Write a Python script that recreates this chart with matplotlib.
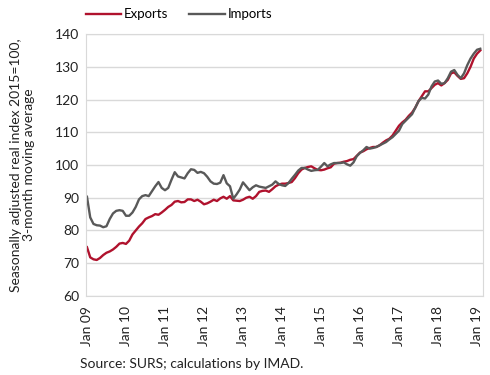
import numpy as np
import matplotlib.pyplot as plt

plt.rcParams['font.family'] = ['Lato', 'DejaVu Sans']

# monthly values, Jan 2009 - Feb 2019
exports = [74.9, 71.8, 71.2, 71.0, 71.6, 72.5, 73.2, 73.6, 74.2, 75.0, 76.0, 76.2,
           75.9, 76.9, 78.8, 80.0, 81.2, 82.2, 83.5, 84.0, 84.4, 85.0, 84.8, 85.5,
           86.3, 87.2, 87.8, 88.8, 89.0, 88.6, 88.7, 89.5, 89.5, 89.0, 89.4, 88.8,
           88.0, 88.3, 88.8, 89.4, 89.0, 89.8, 90.3, 89.7, 90.5, 89.2, 89.1, 89.0,
           89.4, 90.0, 90.3, 89.7, 90.5, 91.8, 92.1, 92.2, 91.8, 92.6, 93.5, 94.0,
           94.3, 94.3, 94.5, 94.8, 96.0, 97.5, 98.6, 99.1, 99.4, 99.6, 99.0, 98.5,
           98.4, 98.6, 99.0, 99.3, 100.4, 100.6, 100.7, 101.0, 101.2, 101.6, 101.8, 102.8,
           103.8, 104.2, 104.8, 105.2, 105.5, 105.5, 106.0, 106.8, 107.5, 108.0, 109.0, 110.5,
           112.0, 113.0, 113.8, 115.0, 116.0, 117.5, 119.5, 121.0, 122.5, 122.5, 123.5, 124.5,
           125.0, 124.3, 125.0, 126.0, 128.0, 128.3, 127.2, 126.3, 126.5, 128.0, 130.0, 132.5,
           134.0, 135.0]
imports = [90.3, 84.0, 82.0, 81.6, 81.5, 81.0, 81.3, 83.5, 85.2, 86.0, 86.2, 86.0,
           84.5, 84.5, 85.5, 87.2, 89.5, 90.5, 90.8, 90.5, 92.0, 93.5, 94.8, 93.0,
           92.3, 93.0, 95.5, 97.8, 96.5, 96.2, 95.9, 97.5, 98.7, 98.5, 97.6, 97.9,
           97.5, 96.4, 95.0, 94.3, 94.2, 94.6, 96.9, 94.4, 93.5, 89.7, 91.0, 92.5,
           94.7, 93.5, 92.3, 93.2, 93.8, 93.4, 93.2, 93.0, 93.5, 94.0, 95.0, 94.2,
           93.8, 93.6, 94.5, 95.8, 97.0, 98.3, 99.1, 99.1, 98.6, 98.2, 98.4, 98.5,
           99.5, 100.6, 99.6, 100.2, 100.6, 100.6, 100.6, 100.8, 100.2, 99.8, 100.8, 102.7,
           103.7, 104.5, 105.5, 105.0, 105.2, 105.5, 106.0, 106.5, 107.0, 107.8, 108.5, 109.5,
           110.5, 112.5, 113.5, 114.5, 115.5, 117.5, 119.5, 120.5, 120.3, 121.5, 124.0, 125.5,
           125.8, 124.8, 125.0, 126.5, 128.5, 129.0, 127.5, 126.5, 128.0, 130.5, 132.5, 134.0,
           135.2, 135.5]
year_labels = ['Jan 09', 'Jan 10', 'Jan 11', 'Jan 12', 'Jan 13', 'Jan 14',
               'Jan 15', 'Jan 16', 'Jan 17', 'Jan 18', 'Jan 19']

months = np.arange(len(exports))

fig = plt.figure(figsize=(4.9, 3.75), dpi=100)
ax = fig.add_axes([0.1755, 0.2107, 0.81, 0.6986])

ax.plot(months, exports, color='#B0122D', lw=1.7, label='Exports')
ax.plot(months, imports, color='#595959', lw=1.7, label='Imports')

ax.set_ylim(60, 140)
ax.set_yticks(range(60, 141, 10))
ax.set_xlim(-0.3, 121.8)
ax.set_xticks(np.arange(len(year_labels)) * 12)
ax.set_xticklabels(year_labels, rotation=90)
ax.tick_params(axis='y', length=0, labelsize=10, colors='#222222', pad=5)
ax.tick_params(axis='x', length=0, labelsize=10, colors='#222222', pad=7)
ax.grid(axis='y', color='#d9d9d9', lw=1)
ax.set_axisbelow(True)
for s in ax.spines.values():
    s.set_color('#d9d9d9')

fig.text(0.046, 0.56, 'Seasonally adjusted real index 2015=100,\n3-month moving average',
         rotation=90, ha='center', va='center', fontsize=10, color='#222222',
         linespacing=1.05)

fig.legend(loc='upper center', bbox_to_anchor=(0.365, 1.01), ncol=2, frameon=False,
           fontsize=9.5, handlelength=2.7, columnspacing=1.6, handletextpad=0.2)

fig.text(0.163, 0.02, 'Source: SURS; calculations by IMAD.', fontsize=10, color='#222222')

plt.savefig('out.png', dpi=100)
